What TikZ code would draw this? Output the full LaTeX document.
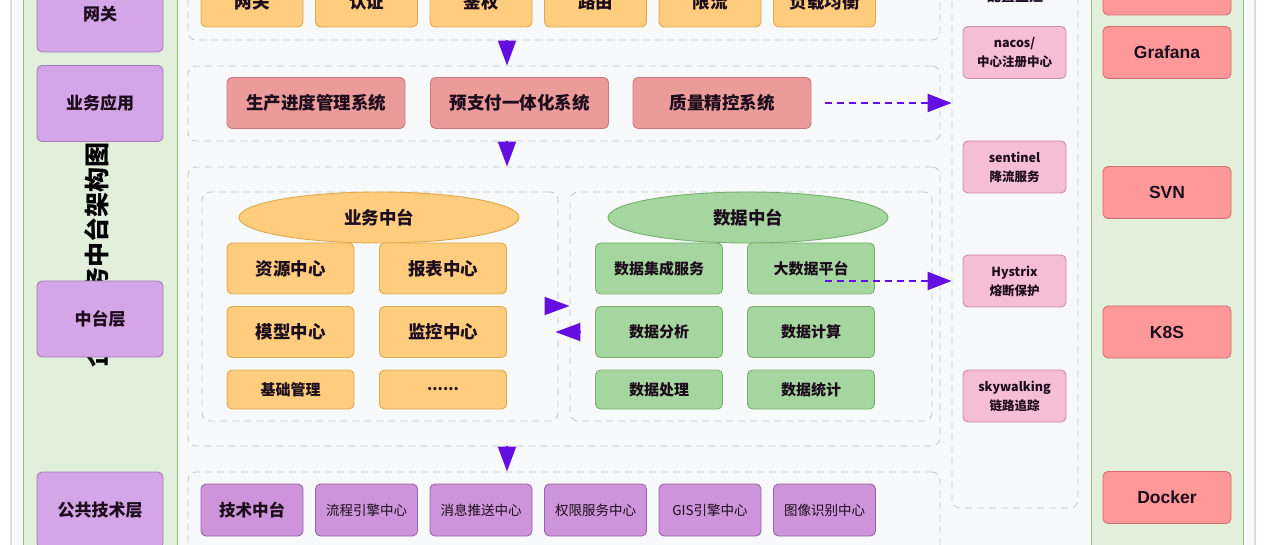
\documentclass[tikz,border=0pt]{standalone}
\usepackage{fontspec}
\setmainfont{Noto Sans CJK SC}
\newfontfamily\lat{Liberation Sans}
\usetikzlibrary{arrows.meta,shapes.geometric}
\definecolor{outfill}{RGB}{248,249,251}
\definecolor{outdraw}{RGB}{208,215,224}
\definecolor{colfill}{RGB}{226,239,218}
\definecolor{coldraw}{RGB}{150,190,130}
\definecolor{lpfill}{RGB}{212,166,232}
\definecolor{lpdraw}{RGB}{165,125,185}
\definecolor{orfill}{RGB}{255,205,125}
\definecolor{ordraw}{RGB}{222,168,75}
\definecolor{rwfill}{RGB}{236,155,155}
\definecolor{rwdraw}{RGB}{205,120,120}
\definecolor{grfill}{RGB}{166,214,160}
\definecolor{grdraw}{RGB}{118,176,108}
\definecolor{pkfill}{RGB}{246,190,212}
\definecolor{pkdraw}{RGB}{205,140,165}
\definecolor{rdfill}{RGB}{255,153,153}
\definecolor{rddraw}{RGB}{212,112,112}
\definecolor{tpfill}{RGB}{205,148,218}
\definecolor{tpdraw}{RGB}{150,100,170}
\definecolor{arrc}{RGB}{100,15,225}
\definecolor{darrc}{RGB}{90,30,190}
\definecolor{cont}{RGB}{200,200,205}
\definecolor{txt}{RGB}{28,12,28}
\tikzset{
  box/.style={rectangle, rounded corners=5pt, line width=0.9pt, align=center, inner sep=0pt, text=txt},
  lbox/.style={box, fill=lpfill, draw=lpdraw, minimum width=126pt, minimum height=76pt, font=\fontsize{17}{20}\selectfont\bfseries},
  obox/.style={box, fill=orfill, draw=ordraw, font=\fontsize{17.5}{20}\selectfont\bfseries},
  rwbox/.style={box, fill=rwfill, draw=rwdraw, minimum width=178pt, minimum height=51pt, font=\fontsize{17.5}{20}\selectfont\bfseries},
  gbox/.style={box, fill=grfill, draw=grdraw, minimum width=127pt, font=\fontsize{15}{18}\selectfont\bfseries},
  pbox/.style={box, fill=pkfill, draw=pkdraw, minimum width=103pt, minimum height=52pt, font=\fontsize{12.5}{19}\selectfont\bfseries},
  rbox/.style={box, fill=rdfill, draw=rddraw, minimum width=128pt, minimum height=52pt, font=\lat\fontsize{17.5}{20}\selectfont\bfseries},
  tbox/.style={box, fill=tpfill, draw=tpdraw, minimum width=102pt, minimum height=52pt, font=\fontsize{13.5}{16}\selectfont},
  ell/.style={ellipse, line width=0.9pt, inner sep=0pt, minimum width=280pt, minimum height=51pt, font=\fontsize{17.5}{20}\selectfont\bfseries, text=txt},
  contbox/.style={rectangle, rounded corners=8pt, draw=cont, line width=0.9pt, dash pattern=on 7pt off 5pt, fill=outfill, inner sep=0pt},
  arr/.style={draw=arrc, line width=2pt, -{Triangle[length=25pt,width=18pt]}, arrc},
  darr/.style={draw=darrc, line width=2.5pt, dash pattern=on 7pt off 5pt, -{Triangle[length=24pt,width=18pt]}, arrc},
}
\begin{document}
\begin{tikzpicture}[x=1pt,y=-1pt]
\useasboundingbox (0,0) rectangle (1280,545);
\clip (0,0) rectangle (1280,545);
\fill[white] (0,0) rectangle (1280,545);
% outer panel
\draw[fill=outfill, draw=outdraw, line width=1.5pt, rounded corners=8pt] (11,-30) rectangle (1255,575);
% side columns
\draw[fill=colfill, draw=coldraw, line width=1pt] (23,-30) rectangle (177,575);
\draw[fill=colfill, draw=coldraw, line width=1pt] (1091,-30) rectangle (1243,575);
% vertical title
\node[rotate=90, font=\fontsize{25}{25}\selectfont\bfseries, text=black, inner sep=0pt] (title) at (97,255) {企业业务中台架构图};
% left labels
\node[lbox] (L1) at (100,14) {网关};
\node[lbox] (L2) at (100,103.5) {业务应用};
\node[lbox] (L3) at (100,319) {中台层};
\node[lbox] (L4) at (100,510) {公共技术层};
% containers
\node[contbox, minimum width=752pt, minimum height=80pt] (r1) at (564,0) {};
\node[contbox, minimum width=752pt, minimum height=75pt] (r2) at (564,103.5) {};
\node[contbox, minimum width=752pt, minimum height=279pt] (r3) at (564,306.5) {};
\node[contbox, minimum width=356pt, minimum height=229pt] (biz) at (380,306.5) {};
\node[contbox, minimum width=362pt, minimum height=229pt] (dat) at (751,306.5) {};
\node[contbox, minimum width=752pt, minimum height=98pt] (r4) at (564,521) {};
\node[contbox, minimum width=126pt, minimum height=548pt] (mid) at (1015,234) {};
% row 1 gateway
\node[obox, minimum width=102pt, minimum height=51pt] (g1) at (252,1.5) {网关};
\node[obox, minimum width=102pt, minimum height=51pt] (g2) at (366.5,1.5) {认证};
\node[obox, minimum width=102pt, minimum height=51pt] (g3) at (481,1.5) {鉴权};
\node[obox, minimum width=102pt, minimum height=51pt] (g4) at (595.5,1.5) {路由};
\node[obox, minimum width=102pt, minimum height=51pt] (g5) at (710,1.5) {限流};
\node[obox, minimum width=102pt, minimum height=51pt] (g6) at (824.5,1.5) {负载均衡};
% row 2 applications
\node[rwbox] (a1) at (316,103) {生产进度管理系统};
\node[rwbox] (a2) at (519.5,103) {预支付一体化系统};
\node[rwbox] (a3) at (722,103) {质量精控系统};
% business platform
\node[ell, fill=orfill, draw=ordraw] (bizt) at (379,217.5) {业务中台};
\node[obox, minimum width=127pt, minimum height=51pt] (b1) at (290.5,268.5) {资源中心};
\node[obox, minimum width=127pt, minimum height=51pt] (b2) at (443,268.5) {报表中心};
\node[obox, minimum width=127pt, minimum height=51pt] (b3) at (290.5,332) {模型中心};
\node[obox, minimum width=127pt, minimum height=51pt] (b4) at (443,332) {监控中心};
\node[obox, minimum width=127pt, minimum height=39pt, font=\fontsize{15}{18}\selectfont\bfseries] (b5) at (290.5,389.5) {基础管理};
\node[obox, minimum width=127pt, minimum height=39pt, font=\fontsize{15}{18}\selectfont\bfseries] (b6) at (443,389.5) {......};
% data platform
\node[ell, fill=grfill, draw=grdraw] (datt) at (748,217.5) {数据中台};
\node[gbox, minimum height=51pt] (d1) at (659,268.5) {数据集成服务};
\node[gbox, minimum height=51pt] (d2) at (811,268.5) {大数据平台};
\node[gbox, minimum height=51pt] (d3) at (659,332) {数据分析};
\node[gbox, minimum height=51pt] (d4) at (811,332) {数据计算};
\node[gbox, minimum height=39pt] (d5) at (659,389.5) {数据处理};
\node[gbox, minimum height=39pt] (d6) at (811,389.5) {数据统计};
% tech row
\node[tbox, font=\fontsize{16.5}{18}\selectfont\bfseries] (t1) at (252,510) {技术中台};
\node[tbox] (t2) at (366.5,510) {流程引擎中心};
\node[tbox] (t3) at (481,510) {消息推送中心};
\node[tbox] (t4) at (595.5,510) {权限服务中心};
\node[tbox] (t5) at (710,510) {GIS引擎中心};
\node[tbox] (t6) at (824.5,510) {图像识别中心};
% middleware column
\node[font=\fontsize{14}{16}\selectfont\bfseries, text=txt, inner sep=0pt] (mt) at (1015,-4) {配置监控};
\node[pbox] (p1) at (1014.5,52.5) {nacos/\\中心注册中心};
\node[pbox] (p2) at (1014.5,167) {sentinel\\降流服务};
\node[pbox] (p3) at (1014.5,281) {Hystrix\\熔断保护};
\node[pbox] (p4) at (1014.5,396) {skywalking\\链路追踪};
% right tools
\node[rbox] (k0) at (1167,-11) {};
\node[rbox] (k1) at (1167,52.5) {Grafana};
\node[rbox] (k2) at (1167,192.5) {SVN};
\node[rbox] (k3) at (1167,332) {K8S};
\node[rbox] (k4) at (1167,497.5) {Docker};
% arrows
\coordinate (ax) at (507,0);
\draw[arr] (r1.south -| ax) -- (r2.north -| ax);
\draw[arr] (r2.south -| ax) -- (r3.north -| ax);
\draw[arr] (r3.south -| ax) -- (r4.north -| ax);
\coordinate (s1) at (825,103);
\draw[darr] (s1) -- (mid.west |- s1);
\coordinate (s2) at (825,281);
\draw[darr] (s2) -- (mid.west |- s2);
\coordinate (h1) at (547,306);
\coordinate (h2) at (580,332);
\draw[arr] (h1) -- (dat.west |- h1);
\draw[arr] (h2) -- ([xshift=-3pt]biz.east |- h2);
\end{tikzpicture}
\end{document}
